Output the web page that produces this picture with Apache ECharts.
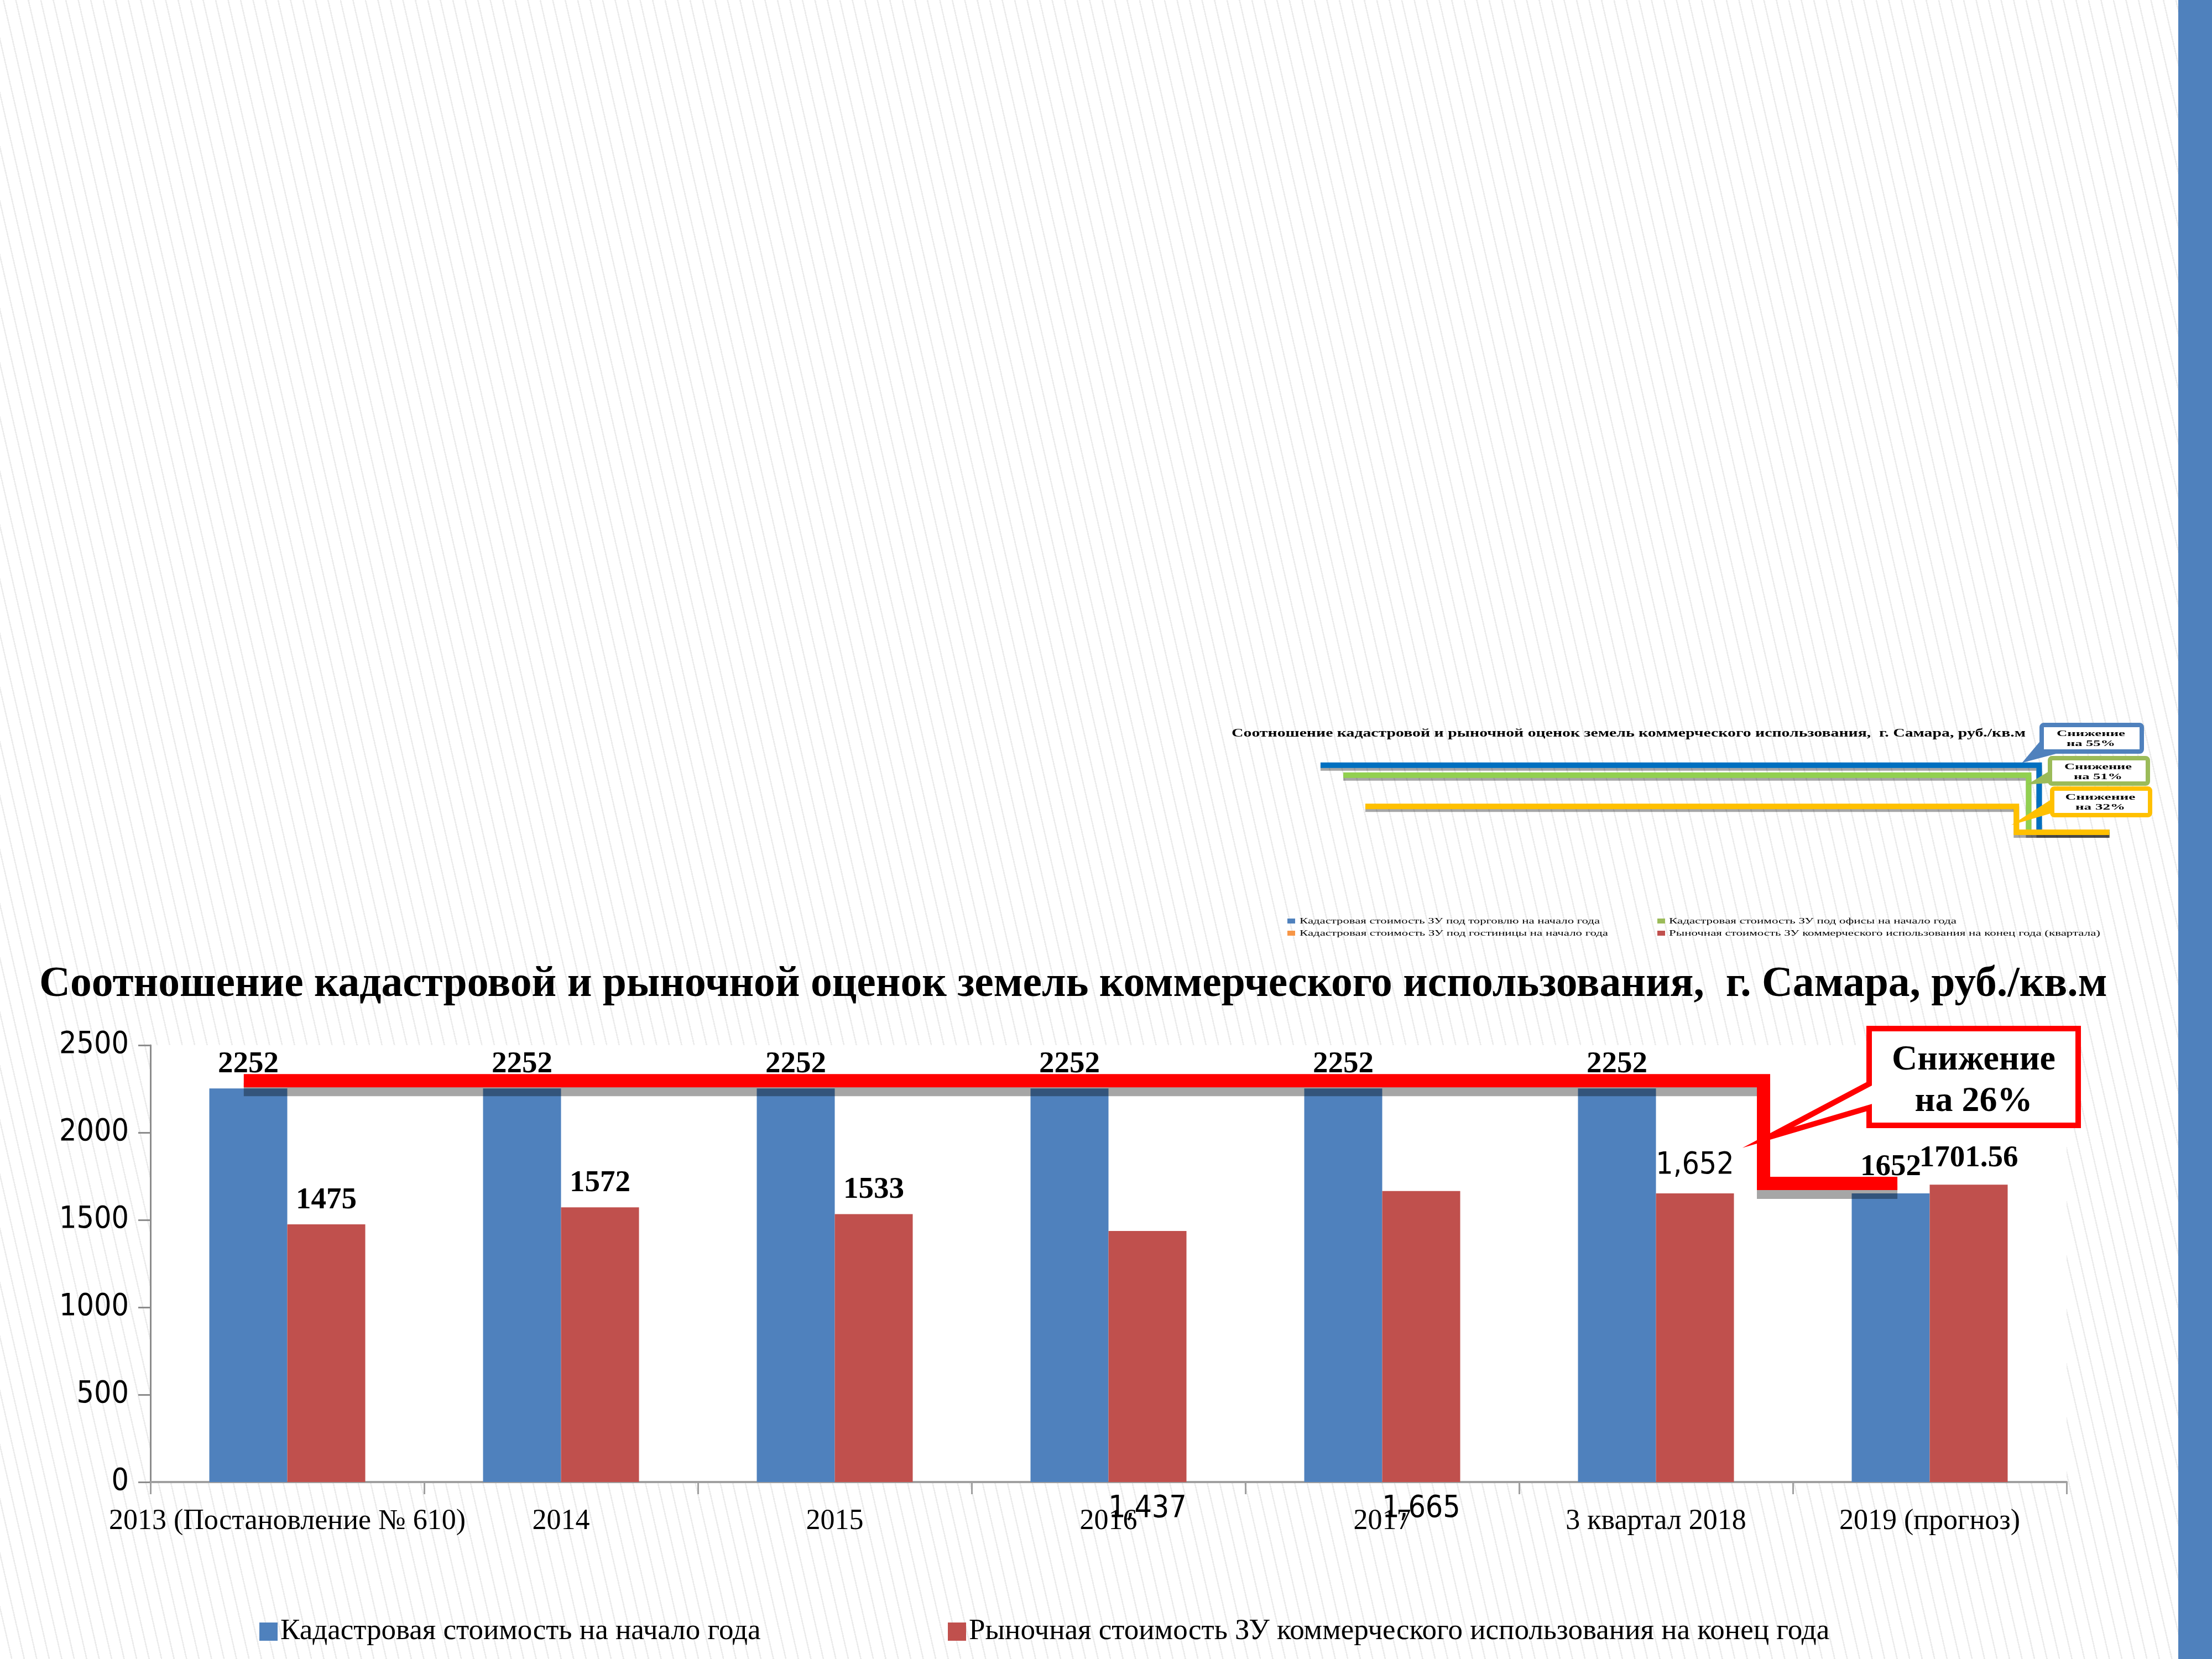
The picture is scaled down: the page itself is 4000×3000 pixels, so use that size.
<!DOCTYPE html>
<html><head><meta charset="utf-8">
<script src="https://cdn.jsdelivr.net/npm/echarts@6/dist/echarts.min.js"></script>
<style>
html,body{margin:0;padding:0;width:4000px;height:3000px;overflow:hidden;
background:repeating-linear-gradient(77deg,#ffffff 0px,#ffffff 19.5px,#ececec 19.5px,#ececec 22px);}
#c{width:4000px;height:3000px;}
</style></head><body><div id="c"></div>
<script>
// ---------- data ----------
const titleText = 'Соотношение кадастровой и рыночной оценок земель коммерческого использования,  г. Самара, руб./кв.м';
const categories = ['2013 (Постановление № 610)', '2014', '2015', '2016', '2017', '3 квартал 2018', '2019 (прогноз)'];
const seriesNames = ['Кадастровая стоимость на начало года', 'Рыночная стоимость ЗУ коммерческого использования на конец года'];
const cadastral = [2252, 2252, 2252, 2252, 2252, 2252, 1652];
const market = [1475, 1572, 1533, 1437, 1665, 1652, 1701.56];
const yMin = 0, yMax = 2500, yStep = 500;
// red stepped annotation line (x in category units, y in rub/m2)
const stepX = [0.341, 5.893, 5.893, 6.382];
const stepY = [2297, 2297, 1709, 1709];
const mainCallout = ['Снижение', 'на 26%'];
// thumbnail chart
const thumbNames = ['Кадастровая стоимость ЗУ под торговлю на начало года', 'Кадастровая стоимость ЗУ под офисы на начало года', 'Кадастровая стоимость ЗУ под гостиницы на начало года', 'Рыночная стоимость ЗУ коммерческого использования на конец года (квартала)'];
const thumbBefore = [5004, 4596, 3312];
const thumbAfter = [2252, 2252, 2252];
const thumbStartX = [0.397, 0.583, 0.763];
const thumbDropX = [6.266, 6.18, 6.08];
const thumbEndX = 6.84;
const thumbCallouts = ['на 55%', 'на 51%', 'на 32%'];

// ---------- styles ----------
const SERIF = '"Liberation Serif", "Times New Roman", serif';
const SANSC = '"DejaVu Sans Condensed", "DejaVu Sans", sans-serif';
const marketLabelKind = ['bold', 'bold', 'bold', 'below', 'below', 'plain', 'bold'];
const mctx = document.createElement('canvas').getContext('2d');
function tw(text, font) { mctx.font = font; return mctx.measureText(text).width; }
function clamp(v, a, b) { return Math.max(a, Math.min(b, v)); }

const fsTitle = clamp(74 * 3740 / tw(titleText, 'bold 74px ' + SERIF), 66, 82);

function txt(text, font, x, y, align, targetW, z) {
  const w = tw(text, font);
  const sx = targetW ? targetW / w : 1;
  return { type: 'text', x: x, y: y, scaleX: sx, silent: true, z: z || 120,
    style: { text: text, font: font, fill: '#000', textAlign: align, textVerticalAlign: 'middle', align: align, verticalAlign: 'middle' } };
}

const G = [];
G.push({ type: 'rect', shape: { x: 3939, y: 0, width: 61, height: 3000 }, style: { fill: '#4f81bd' }, silent: true, z: 1 });
// main callout
G.push({ type: 'polygon', silent: true, z: 110,
  shape: { points: [[3380, 1860], [3758, 1860], [3758, 2035], [3380, 2035], [3380, 2003], [3197, 2057], [3380, 1960]] },
  style: { fill: '#fff', stroke: '#ff0000', lineWidth: 10, lineJoin: 'miter', miterLimit: 12 } });
const fsCall = clamp(60 * 296 / tw(mainCallout[0], 'bold 60px ' + SERIF), 50, 68);
G.push(txt(mainCallout[0], 'bold ' + fsCall + 'px ' + SERIF, 3569, 1917, 'center'));
G.push(txt(mainCallout[1], 'bold ' + fsCall + 'px ' + SERIF, 3569, 1992, 'center'));

// thumbnail title
G.push(txt(titleText, 'bold 20px ' + SERIF, 2227, 1327, 'left', 1436));
// thumbnail callouts
const tb = [
  { c: '#4f81bd', r: [3692, 1311, 181, 48], w: [[3692, 1340], [3725, 1359], [3662, 1376]], tx: 3781, ty: [1327, 1345], tw: [124, 88] },
  { c: '#9bbb59', r: [3707, 1371, 177, 46], w: [[3707, 1396], [3707, 1414], [3674, 1416]], tx: 3794, ty: [1387, 1405], tw: [122, 88] },
  { c: '#ffc000', r: [3711, 1426, 177, 48], w: [[3711, 1447], [3711, 1468], [3650, 1486]], tx: 3798, ty: [1442, 1460], tw: [127, 90] }
];
tb.forEach((b, i) => {
  G.push({ type: 'polygon', silent: true, z: 105, shape: { points: b.w }, style: { fill: b.c, stroke: b.c, lineWidth: 4 } });
  G.push({ type: 'rect', silent: true, z: 106, shape: { x: b.r[0], y: b.r[1], width: b.r[2], height: b.r[3], r: 4 }, style: { fill: '#fff', stroke: b.c, lineWidth: 8 } });
  G.push(txt('Снижение', 'bold 15px ' + SERIF, b.tx, b.ty[0], 'center', b.tw[0]));
  G.push(txt(thumbCallouts[i], 'bold 15px ' + SERIF, b.tx, b.ty[1], 'center', b.tw[1]));
});
// thumbnail legend
const tl = [
  { c: '#4f81bd', sx: 2328, tx: 2350, y: 1666, w: 543 },
  { c: '#9bbb59', sx: 2997, tx: 3018, y: 1666, w: 520 },
  { c: '#f79646', sx: 2328, tx: 2350, y: 1688, w: 558 },
  { c: '#c0504d', sx: 2997, tx: 3018, y: 1688, w: 780 }
];
const tlIdx = [0, 1, 2, 3];
tl.forEach((l, i) => {
  G.push({ type: 'rect', silent: true, z: 100, shape: { x: l.sx, y: l.y - 5, width: 14, height: 9 }, style: { fill: l.c } });
  G.push(txt(thumbNames[tlIdx[i]], '14px ' + SERIF, l.tx, l.y, 'left', l.w));
});

// ---------- series ----------
const boldLbl = (dist) => ({ position: 'top', distance: dist, fontFamily: SERIF, fontWeight: 'bold', fontSize: 55, color: '#000' });
const blueData = cadastral.map((v, i) => ({ value: v, label: boldLbl(i === 6 ? 20 : 16) }));
const redData = market.map((v, i) => {
  const k = marketLabelKind[i];
  let label;
  if (k === 'bold') label = boldLbl(i === 6 ? 20 : 16);
  else if (k === 'plain') label = { position: 'top', distance: 23, fontFamily: SANSC, fontWeight: 'normal', fontSize: 55, color: '#000' };
  else label = { position: 'bottom', distance: 21, fontFamily: SANSC, fontWeight: 'normal', fontSize: 55, color: '#000' };
  return { value: v, label: label };
});
const fmt = (p) => marketLabelKind[p.dataIndex] === 'bold' || p.seriesIndex === 0 ? String(p.value) : p.value.toLocaleString('en-US');

const thumbColors = ['#0070c0', '#92d050', '#ffc000'];
const thumbSeries = thumbBefore.map((b, i) => ({
  name: thumbNames[i], type: 'line', xAxisIndex: 2, yAxisIndex: 1, symbol: 'none', silent: true, z: 5,
  data: [[thumbStartX[i], b], [thumbDropX[i], b], [thumbDropX[i], thumbAfter[i]], [thumbEndX, thumbAfter[i]]],
  lineStyle: { color: thumbColors[i], width: 10, cap: 'butt', join: 'miter', shadowColor: 'rgba(0,0,0,0.35)', shadowOffsetY: 5, shadowOffsetX: 0, shadowBlur: 0 }
}));

const legendFont = 53;
const legTextW = tw(seriesNames[0], legendFont + 'px ' + SERIF);
const legLeft = 464;
const legGap = 1709 - (legLeft + 33 + 5 + legTextW);

const option = {
  animation: false,
  backgroundColor: 'transparent',
  title: { text: titleText, left: 71, top: 1781 - fsTitle / 2, padding: 0,
    textStyle: { fontFamily: SERIF, fontWeight: 'bold', fontSize: fsTitle, color: '#000' } },
  legend: { data: seriesNames, left: legLeft, top: 2919, itemWidth: 33, itemHeight: 33, itemGap: legGap, icon: 'rect', selectedMode: false,
    textStyle: { fontFamily: SERIF, fontSize: legendFont, color: '#000' } },
  grid: [
    { left: 272, top: 1890, width: 3465, height: 790, show: true, backgroundColor: '#ffffff', borderWidth: 0, outerBoundsMode: 'none', containLabel: false },
    { left: 2300, top: 1340, width: 1550, height: 264, show: false, outerBoundsMode: 'none', containLabel: false }
  ],
  xAxis: [
    { type: 'category', gridIndex: 0, data: categories, boundaryGap: true,
      axisLine: { show: true, lineStyle: { color: '#a0a0a0', width: 4 } },
      axisTick: { show: true, length: 22, inside: false, lineStyle: { color: '#a0a0a0', width: 3 } },
      axisLabel: { interval: 0, margin: 45, fontFamily: SERIF, fontSize: 52, color: '#000', hideOverlap: false },
      splitLine: { show: false } },
    { type: 'value', gridIndex: 0, min: 0, max: 7, show: false },
    { type: 'value', gridIndex: 1, min: 0, max: 7, show: false }
  ],
  yAxis: [
    { type: 'value', gridIndex: 0, min: yMin, max: yMax, interval: yStep,
      axisLine: { show: true, lineStyle: { color: '#8c8c8c', width: 3 } },
      axisTick: { show: true, length: 22, inside: false, lineStyle: { color: '#8c8c8c', width: 3 } },
      axisLabel: { margin: 39, fontFamily: SANSC, fontSize: 55, color: '#000', formatter: (v) => String(v) },
      splitLine: { show: false } },
    { type: 'value', gridIndex: 1, min: 0, max: 6000, show: false }
  ],
  series: [
    { name: seriesNames[0], type: 'bar', xAxisIndex: 0, yAxisIndex: 0, barWidth: 141, barGap: '0%', data: blueData,
      itemStyle: { color: '#4f81bd' }, label: { show: true, formatter: fmt }, silent: true },
    { name: seriesNames[1], type: 'bar', xAxisIndex: 0, yAxisIndex: 0, barWidth: 141, barGap: '0%', data: redData,
      itemStyle: { color: '#c0504d' }, label: { show: true, formatter: fmt }, silent: true },
    { name: 'step', type: 'line', xAxisIndex: 1, yAxisIndex: 0, symbol: 'none', silent: true, z: 3,
      data: stepX.map((x, i) => [x, stepY[i]]),
      lineStyle: { color: '#ff0000', width: 24, cap: 'butt', join: 'miter', shadowColor: 'rgba(0,0,0,0.35)', shadowOffsetY: 16, shadowOffsetX: 0, shadowBlur: 0 } }
  ].concat(thumbSeries),
  graphic: { elements: G }
};
const chart = echarts.init(document.getElementById('c'), null, { renderer: 'canvas', width: 4000, height: 3000 });
chart.setOption(option);
</script></body></html>
